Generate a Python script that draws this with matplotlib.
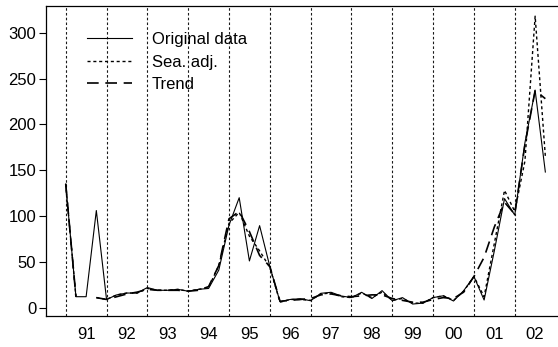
import numpy as np
import matplotlib.pyplot as plt

plt.rcParams['font.family'] = ['Liberation Sans', 'DejaVu Sans']

# quarterly series, 1991 Q1 .. 2002 Q4
start_year = 1991
original = [135, 12, 12, 106,
            9, 14, 16, 16,
            22, 19, 19, 20,
            18, 20, 21, 41,
            90, 120, 51, 89.5,
            45, 6.5, 9, 9.8,
            7.6, 15.7, 16.8, 12.8,
            11, 16.8, 10, 18.6,
            7.6, 11, 4, 5,
            11, 13, 7.3, 18.6,
            34, 8.4, 62, 119,
            101, 180, 237, 148]
sea_adj = [135, 12, np.nan, 11,
           9, 14, 16, 16,
           21, 19, 19, 20,
           18, 20, 22, 46,
           92, 104, 78, 62,
           44, 6, 9, 9,
           8, 15, 16, 12,
           11, 16, 11, 17,
           8, 10, 5, 5,
           11, 13, 8, 18,
           34, 12, 70, 128,
           105, 160, 318, 165]
trend = [135, 12, np.nan, 11,
         9, 12, 15, 17,
         20, 19, 19, 19,
         18, 19, 23, 46,
         97, 105, 83, 57,
         45, 7, 8, 9,
         10, 14, 15, 13,
         12, 13, 14, 14,
         10, 8, 6, 6,
         9, 11, 10, 17,
         34, 55, 88, 115,
         102, 178, 237, 228]
year_labels = ['91', '92', '93', '94', '95', '96', '97', '98', '99', '00', '01', '02']
y_ticks = [0, 50, 100, 150, 200, 250, 300]

t = start_year + np.arange(len(original)) / 4
years = start_year + np.arange(len(year_labels))

fig = plt.figure(figsize=(5.58, 3.47), dpi=100)
ax = fig.add_axes([46 / 558, 1 - 316 / 347, 1 - 46 / 558, (316 - 6) / 347])

# year separators
for yr in years:
    ax.axvline(yr, color='0.1', lw=0.8, dashes=(2.3, 2.0), zorder=1)

ax.plot(t, original, color='black', lw=0.8, label='Original data', zorder=3)
ax.plot(t, sea_adj, color='black', lw=1.0, dashes=(2.2, 2.0), label='Sea. adj.', zorder=2)
ax.plot(t, trend, color='black', lw=1.2, dashes=(7, 4), label='Trend', zorder=2)

ax.set_xlim(1990.517, 2003.06)
ax.set_ylim(-9.05, 329.1)

ax.set_xticks(years + 0.5)
ax.set_xticklabels(year_labels)
ax.tick_params(axis='x', length=0, pad=8, labelsize=12)
ax.set_yticks(y_ticks)
ax.tick_params(axis='y', length=5, width=0.8, pad=2, labelsize=12)

ax.spines['right'].set_visible(False)
for s in ['left', 'top', 'bottom']:
    ax.spines[s].set_linewidth(0.9)

ax.legend(loc='upper left', bbox_to_anchor=(87 / 558, 1 - 32 / 347),
          bbox_transform=fig.transFigure, frameon=False, fontsize=12,
          handlelength=2.7, handletextpad=1.2, labelspacing=0.45, borderpad=0,
          borderaxespad=0)

fig.savefig('out.png', dpi=100)
